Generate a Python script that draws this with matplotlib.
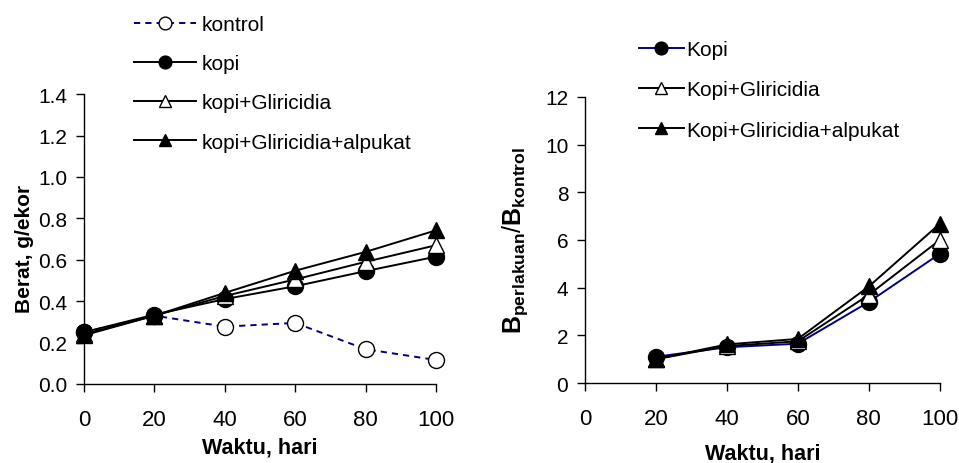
import matplotlib
matplotlib.use("Agg")
import matplotlib.pyplot as plt

plt.rcParams['font.family'] = ['Liberation Sans', 'DejaVu Sans']
plt.rcParams['mathtext.fontset'] = 'custom'
plt.rcParams['mathtext.rm'] = 'Liberation Sans'
plt.rcParams['mathtext.bf'] = 'Liberation Sans:bold'

# ── data, kiri: berat (g/ekor)
hari = [0, 20, 40, 60, 80, 100]
kontrol = [0.25, 0.33, 0.277, 0.295, 0.168, 0.116]
kopi = [0.25, 0.335, 0.41, 0.472, 0.545, 0.615]
kopi_gli = [0.24, 0.33, 0.425, 0.505, 0.59, 0.67]
kopi_gli_alp = [0.235, 0.33, 0.44, 0.547, 0.638, 0.742]

# ── data, kanan: rasio perlakuan/kontrol
hari2 = [20, 40, 60, 80, 100]
r_kopi = [1.1, 1.5, 1.65, 3.4, 5.42]
r_kopi_gli = [1.0, 1.55, 1.75, 3.7, 6.0]
r_kopi_gli_alp = [1.0, 1.62, 1.85, 4.05, 6.68]

NAVY = '#000080'
FS = 15

fig = plt.figure(figsize=(9.59, 4.64), dpi=100)
ax1 = fig.add_axes([0.0876, 0.1703, 0.367, 0.6247])
ax2 = fig.add_axes([0.610, 0.1724, 0.370, 0.6166])

ms = 11.5
lw = 1.4

ax1.plot(hari, kontrol, color=NAVY, ls=(0, (3.2, 2.6)), lw=lw, marker='o', ms=ms,
         mfc='white', mec='black', mew=1.0, label='kontrol')
ax1.plot(hari, kopi, color='black', lw=lw, marker='o', ms=ms, mfc='black',
         mec='black', label='kopi')
ax1.plot(hari, kopi_gli, color='black', lw=lw, marker='^', ms=ms, mfc='white',
         mec='black', mew=1.0, label='kopi+Gliricidia')
ax1.plot(hari, kopi_gli_alp, color='black', lw=lw, marker='^', ms=ms, mfc='black',
         mec='black', label='kopi+Gliricidia+alpukat')

ax2.plot(hari2, r_kopi, color=NAVY, lw=lw, marker='o', ms=ms, mfc='black',
         mec='black', label='Kopi')
ax2.plot(hari2, r_kopi_gli, color='black', lw=lw, marker='^', ms=ms, mfc='white',
         mec='black', mew=1.0, label='Kopi+Gliricidia')
ax2.plot(hari2, r_kopi_gli_alp, color='black', lw=lw, marker='^', ms=ms, mfc='black',
         mec='black', label='Kopi+Gliricidia+alpukat')

ax1.set_xlim(0, 100)
ax1.set_ylim(0, 1.4)
ax1.set_xticks(hari)
ax1.set_yticks([0.0, 0.2, 0.4, 0.6, 0.8, 1.0, 1.2, 1.4])
ax1.set_yticklabels([f"{v:.1f}" for v in ax1.get_yticks()])

ax2.set_xlim(0, 100)
ax2.set_ylim(0, 12)
ax2.set_xticks([0, 20, 40, 60, 80, 100])
ax2.set_yticks([0, 2, 4, 6, 8, 10, 12])

for ax in (ax1, ax2):
    for s in ('top', 'right'):
        ax.spines[s].set_visible(False)
    for s in ('left', 'bottom'):
        ax.spines[s].set_linewidth(1.0)
    ax.tick_params(axis='both', direction='out', length=6, width=1.0)
    ax.tick_params(axis='x', pad=12, labelsize=16)
    ax.tick_params(axis='y', pad=6, labelsize=FS)
    for l in ax.get_lines():
        l.set_clip_on(False)

ax1.set_xlabel('Waktu, hari', fontsize=15.5, fontweight='bold', labelpad=5)
ax1.set_ylabel('Berat, g/ekor', fontsize=FS, fontweight='bold')
ax1.yaxis.set_label_coords(-0.142, 0.47)
ax2.set_xlabel('Waktu, hari', fontsize=15.5, fontweight='bold', labelpad=10)
ax2.set_ylabel(r'$\mathbf{B}_{\mathbf{perlakuan}}/\mathbf{B}_{\mathbf{kontrol}}$',
               fontsize=18)
ax2.yaxis.set_label_coords(-0.155, 0.5)

h1, l1 = ax1.get_legend_handles_labels()
fig.legend(h1, l1, loc='upper left', bbox_to_anchor=(0.125, 0.997), frameon=False,
           fontsize=FS, handlelength=2.93, handletextpad=0.3, labelspacing=0.97,
           borderpad=0.2, markerscale=0.8)

h2, l2 = ax2.get_legend_handles_labels()
fig.legend(h2, l2, loc='upper left', bbox_to_anchor=(0.651, 0.943), frameon=False,
           fontsize=FS, handlelength=2.16, handletextpad=0.12, labelspacing=1.02,
           borderpad=0.2, markerscale=0.8)

fig.savefig('out.png', dpi=100)
